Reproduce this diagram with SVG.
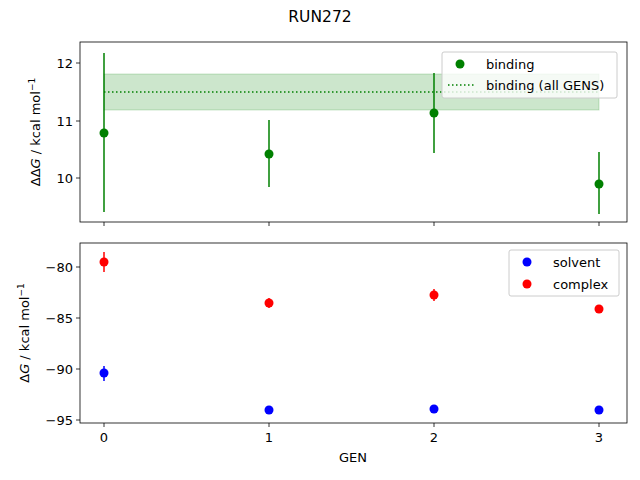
<svg xmlns="http://www.w3.org/2000/svg" width="640" height="480" viewBox="0 0 640 480">
<style>
text{font-family:"DejaVu Sans",sans-serif;font-size:13px;fill:#000}
.sup{font-size:9px}
.ax{fill:none;stroke:#000;stroke-width:0.8}
.tk{stroke:#000;stroke-width:0.8}
.g{stroke:#008000;stroke-width:1.5}
.r{stroke:#ff0000;stroke-width:1.5}
.b{stroke:#0000ff;stroke-width:1.5}
</style>
<rect width="640" height="480" fill="#fff"/>
<text x="320" y="22" text-anchor="middle" style="font-size:15.5px">RUN272</text>
<g id="top">
<rect x="104" y="74" width="495" height="36" fill="#008000" fill-opacity="0.2" stroke="#008000" stroke-opacity="0.2"/>
<line x1="104" y1="92" x2="599" y2="92" stroke="#008000" stroke-width="1.5" stroke-dasharray="1.5,2.5"/>
<line class="g" x1="104" y1="53" x2="104" y2="212"/><circle cx="104" cy="133" r="4.5" fill="#008000"/>
<line class="g" x1="269" y1="120" x2="269" y2="187"/><circle cx="269" cy="154" r="4.5" fill="#008000"/>
<line class="g" x1="434" y1="73" x2="434" y2="153"/><circle cx="434" cy="113" r="4.5" fill="#008000"/>
<line class="g" x1="599" y1="152" x2="599" y2="214"/><circle cx="599" cy="184" r="4.5" fill="#008000"/>
<rect class="ax" x="80" y="42" width="547" height="180"/>
<g class="tk"><line x1="80" y1="63" x2="76" y2="63"/><line x1="80" y1="121" x2="76" y2="121"/><line x1="80" y1="178" x2="76" y2="178"/>
<line x1="104" y1="222" x2="104" y2="226"/><line x1="269" y1="222" x2="269" y2="226"/><line x1="434" y1="222" x2="434" y2="226"/><line x1="599" y1="222" x2="599" y2="226"/></g>
<text x="73" y="68" text-anchor="end">12</text><text x="73" y="126" text-anchor="end">11</text><text x="73" y="183" text-anchor="end">10</text>
<text transform="translate(40,132) rotate(-90)" text-anchor="middle">ΔΔ<tspan font-style="italic">G</tspan> / kcal mol<tspan dy="-5" class="sup">−1</tspan></text>
<g id="legend1"><rect x="442" y="52" width="175" height="46" rx="2" fill="#fff" fill-opacity="0.8" stroke="#ccc"/>
<circle cx="460" cy="64" r="4.5" fill="#008000"/><text x="486" y="69">binding</text>
<line x1="448" y1="85" x2="476" y2="85" stroke="#008000" stroke-width="1.5" stroke-dasharray="1.5,2.5"/><text x="486" y="90">binding (all GENS)</text></g>
</g>
<g id="bottom">
<line class="r" x1="104" y1="252" x2="104" y2="272"/><circle cx="104" cy="262" r="4.5" fill="#ff0000"/>
<line class="r" x1="269" y1="298" x2="269" y2="308"/><circle cx="269" cy="303" r="4.5" fill="#ff0000"/>
<line class="r" x1="434" y1="289" x2="434" y2="301"/><circle cx="434" cy="295" r="4.5" fill="#ff0000"/>
<line class="r" x1="599" y1="305" x2="599" y2="313"/><circle cx="599" cy="309" r="4.5" fill="#ff0000"/>
<line class="b" x1="104" y1="366" x2="104" y2="381"/><circle cx="104" cy="373" r="4.5" fill="#0000ff"/>
<circle cx="269" cy="410" r="4.5" fill="#0000ff"/><circle cx="434" cy="409" r="4.5" fill="#0000ff"/><circle cx="599" cy="410" r="4.5" fill="#0000ff"/>
<rect class="ax" x="80" y="243" width="547" height="180"/>
<g class="tk"><line x1="80" y1="267" x2="76" y2="267"/><line x1="80" y1="318" x2="76" y2="318"/><line x1="80" y1="369" x2="76" y2="369"/><line x1="80" y1="420" x2="76" y2="420"/>
<line x1="104" y1="423" x2="104" y2="427"/><line x1="269" y1="423" x2="269" y2="427"/><line x1="434" y1="423" x2="434" y2="427"/><line x1="599" y1="423" x2="599" y2="427"/></g>
<text x="73" y="272" text-anchor="end">−80</text><text x="73" y="323" text-anchor="end">−85</text><text x="73" y="374" text-anchor="end">−90</text><text x="73" y="425" text-anchor="end">−95</text>
<text x="104" y="442" text-anchor="middle">0</text><text x="269" y="442" text-anchor="middle">1</text><text x="434" y="442" text-anchor="middle">2</text><text x="599" y="442" text-anchor="middle">3</text>
<text x="353" y="462" text-anchor="middle">GEN</text>
<text transform="translate(29,333) rotate(-90)" text-anchor="middle">Δ<tspan font-style="italic">G</tspan> / kcal mol<tspan dy="-5" class="sup">−1</tspan></text>
<g id="legend2"><rect x="509" y="250" width="110" height="46" rx="2" fill="#fff" fill-opacity="0.8" stroke="#ccc"/>
<circle cx="527" cy="262" r="4.5" fill="#0000ff"/><text x="553" y="267">solvent</text>
<circle cx="527" cy="284" r="4.5" fill="#ff0000"/><text x="553" y="289">complex</text></g>
</g>
</svg>
